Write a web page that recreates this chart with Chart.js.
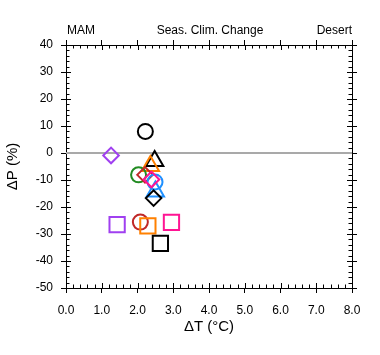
<!DOCTYPE html>
<html><head><meta charset="utf-8">
<script src="https://cdn.jsdelivr.net/npm/chart.js@4/dist/chart.umd.min.js"></script>
<style>html,body{margin:0;padding:0;background:#fff;}canvas{display:block;}</style>
</head><body>
<canvas id="c" width="380" height="355"></canvas>
<script>
// ---- data, listed bottom-to-top in drawing order ----
const deltaT = [2.22, 2.48, 2.36, 2.03, 2.21, 2.50, 2.49, 2.39, 2.45, 1.26, 1.43, 2.08, 2.29, 2.64, 2.95];
const deltaP = [8.0, -3.0, -4.8, -8.1, -8.1, -14.3, -10.7, -9.8, -16.7, -0.9, -26.5, -25.6, -27.0, -33.5, -25.7];
const markerShapes = ['circle','triangle','triangle','circle','rectRot','triangle','circle','rectRot','rectRot','rectRot','rect','circle','rect','rect','rect'];
const markerColors = ['#000000','#000000','#ff8000','#228b22','#c02828','#1e90ff','#1e90ff','#ff1493','#000000','#a040f0','#a040f0','#c02828','#ff8000','#000000','#ff1493'];
const xRange = [0, 8];
const yRange = [-50, 40];
const xMajorStep = 1, xMinorStep = 0.2;
const yMajorStep = 10, yMinorStep = 2;
const zeroLineY = 0;
const titleLeft = 'MAM';
const titleCenter = 'Seas. Clim. Change';
const titleRight = 'Desert';
const xTitle = '\u0394T (\u00b0C)';
const yTitle = '\u0394P (%)';

const FONT = "'Liberation Sans', Arial, Helvetica, sans-serif";
Chart.defaults.font.family = FONT;
Chart.defaults.font.size = 12;
Chart.defaults.color = '#000';

const radiusFor = {circle: 7.5, triangle: 10, rectRot: 7.8, rect: 10.8};

const datasets = [{
  type: 'line',
  data: [{x: xRange[0], y: zeroLineY}, {x: xRange[1], y: zeroLineY}],
  borderColor: '#a9a9a9', borderWidth: 2, pointRadius: 0, order: 1000
}];
deltaT.forEach((t, i) => {
  datasets.push({
    type: 'scatter',
    data: [{x: t, y: deltaP[i]}],
    pointStyle: markerShapes[i],
    pointRadius: radiusFor[markerShapes[i]],
    pointHoverRadius: radiusFor[markerShapes[i]],
    borderColor: markerColors[i],
    backgroundColor: 'rgba(0,0,0,0)',
    pointBorderWidth: 2,
    borderWidth: 2,
    order: deltaT.length - i
  });
});

const gridOpts = {drawOnChartArea: false, color: '#000', tickLength: 5, lineWidth: 1};
const borderOpts = {color: '#000', width: 1};

const decor = {
  id: 'decor',
  beforeDatasetsDraw(chart) {
    const {ctx, chartArea: a, scales: {x, y}} = chart;
    ctx.save();
    ctx.strokeStyle = '#000';
    ctx.lineWidth = 1;
    ctx.beginPath();
    const nx = Math.round((xRange[1] - xRange[0]) / xMinorStep);
    const perX = Math.round(xMajorStep / xMinorStep);
    for (let i = 0; i <= nx; i++) {
      const px = Math.round(x.getPixelForValue(xRange[0] + i * xMinorStep)) + 0.5;
      const L = i % perX === 0 ? 5 : 3.5;
      ctx.moveTo(px, a.bottom); ctx.lineTo(px, a.bottom - L);
      ctx.moveTo(px, a.top); ctx.lineTo(px, a.top + L);
    }
    const ny = Math.round((yRange[1] - yRange[0]) / yMinorStep);
    const perY = Math.round(yMajorStep / yMinorStep);
    for (let i = 0; i <= ny; i++) {
      const py = Math.round(y.getPixelForValue(yRange[0] + i * yMinorStep)) + 0.5;
      const L = i % perY === 0 ? 5 : 3.5;
      ctx.moveTo(a.left, py); ctx.lineTo(a.left + L, py);
      ctx.moveTo(a.right, py); ctx.lineTo(a.right - L, py);
    }
    ctx.stroke();
    ctx.restore();
  },
  afterDraw(chart) {
    const {ctx, chartArea: a} = chart;
    ctx.save();
    ctx.fillStyle = '#000';
    ctx.font = '12px ' + FONT;
    ctx.textBaseline = 'alphabetic';
    ctx.textAlign = 'left';
    ctx.fillText(titleLeft, a.left + 1, 34);
    ctx.textAlign = 'center';
    ctx.fillText(titleCenter, (a.left + a.right) / 2 + 1, 34);
    ctx.textAlign = 'right';
    ctx.fillText(titleRight, a.right, 34);
    ctx.restore();
  }
};

new Chart(document.getElementById('c'), {
  type: 'scatter',
  data: {datasets},
  plugins: [decor],
  options: {
    responsive: false,
    animation: false,
    events: [],
    layout: {padding: 0},
    plugins: {legend: {display: false}, tooltip: {enabled: false}, title: {display: false}},
    scales: {
      x: {
        type: 'linear', position: 'bottom', min: xRange[0], max: xRange[1],
        grid: gridOpts, border: borderOpts,
        ticks: {stepSize: xMajorStep, padding: 10, callback: v => Number(v).toFixed(1), maxRotation: 0, autoSkip: false},
        title: {display: true, text: xTitle, font: {size: 15}, padding: {top: 0, bottom: 19}},
        afterFit: s => { s.height = 67; }
      },
      x2: {
        type: 'linear', axis: 'x', position: 'top', min: xRange[0], max: xRange[1],
        grid: gridOpts, border: borderOpts,
        ticks: {stepSize: xMajorStep, display: false, autoSkip: false},
        afterFit: s => { s.height = 45; }
      },
      y: {
        type: 'linear', position: 'left', min: yRange[0], max: yRange[1],
        grid: gridOpts, border: borderOpts,
        ticks: {stepSize: yMajorStep, padding: 8, autoSkip: false},
        title: {display: true, text: yTitle, font: {size: 15}, padding: {top: 4, bottom: 0}},
        afterFit: s => { s.width = 66; }
      },
      y2: {
        type: 'linear', axis: 'y', position: 'right', min: yRange[0], max: yRange[1],
        grid: gridOpts, border: borderOpts,
        ticks: {stepSize: yMajorStep, display: false, autoSkip: false},
        afterFit: s => { s.width = 28; }
      }
    }
  }
});
</script>
</body></html>
